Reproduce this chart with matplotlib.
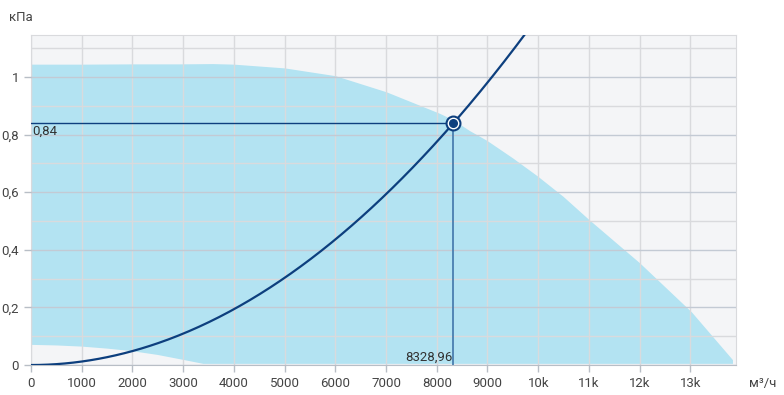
import matplotlib.pyplot as plt
import numpy as np

# fan working area (upper and lower boundaries), m3/h vs kPa
upper_x = [0, 1000, 2000, 2940, 3590, 4010, 5010, 6010, 7015, 8070, 8340, 8650, 9000, 9510, 10000, 10500, 11000, 12010, 13030, 13840]
upper_y = [1.043, 1.043, 1.044, 1.044, 1.045, 1.043, 1.030, 1.003, 0.947, 0.872, 0.849, 0.813, 0.778, 0.717, 0.654, 0.584, 0.505, 0.353, 0.183, 0.017]
lower_x = [0, 500, 1000, 1500, 2000, 2500, 3000, 3400, 13840]
lower_y = [0.07, 0.068, 0.064, 0.057, 0.048, 0.035, 0.018, 0.004, 0.004]

# operating point
op_flow = 8328.96
op_press = 0.84

x_ticks = [0, 1000, 2000, 3000, 4000, 5000, 6000, 7000, 8000, 9000, 10000, 11000, 12000, 13000]
x_labels = ['0', '1000', '2000', '3000', '4000', '5000', '6000', '7000', '8000', '9000', '10k', '11k', '12k', '13k']
y_ticks = [0, 0.2, 0.4, 0.6, 0.8, 1.0]
y_labels = ['0', '0,2', '0,4', '0,6', '0,8', '1']

plt.rcParams['font.family'] = ['Roboto', 'DejaVu Sans']

fig = plt.figure(figsize=(7.84, 3.95), dpi=100)
ax = fig.add_axes([0.0395, 0.0759, 0.8993, 0.8355])
ax.set_facecolor('#f4f5f7')

# working area polygon
poly_x = list(upper_x) + list(lower_x[::-1])
poly_y = list(upper_y) + list(lower_y[::-1])
ax.fill(poly_x, poly_y, color='#b3e3f2', lw=0, zorder=1)

# system curve through the operating point
k = op_press / op_flow ** 2
xs = np.linspace(0, 10000, 300)
ax.plot(xs, k * xs ** 2, color='#0d3f7e', lw=1.6, zorder=4)

# guide lines to the operating point
ax.plot([0, op_flow], [op_press, op_press], color='#0d3f7e', lw=1.0, zorder=3)
ax.plot([op_flow, op_flow], [0, op_press], color='#4a7fb0', lw=1.3, zorder=3)
ax.plot([op_flow], [op_press], 'o', ms=10, mfc='white', mec='#0d3f7e', mew=1.5, zorder=5)
ax.plot([op_flow], [op_press], 'o', ms=5.5, color='#0d3f7e', zorder=6)

ax.text(20, op_press - 0.005, '0,84', ha='left', va='top', fontsize=9.5, color='#333333', zorder=6)
ax.text(op_flow - 20, 0.005, '8328,96', ha='right', va='bottom', fontsize=9.5, color='#333333', zorder=6)

ax.set_xlim(0, 13900)
ax.set_ylim(0, 1.146)
ax.set_xticks(x_ticks)
ax.set_xticklabels(x_labels)
ax.set_yticks(y_ticks)
ax.set_yticklabels(y_labels)
ax.set_yticks(np.arange(0.1, 1.15, 0.2), minor=True)
ax.tick_params(axis='y', which='minor', length=0)
ax.set_axisbelow(False)
ax.grid(True, axis='x', color='#d9dadd', lw=1.0)
ax.grid(True, axis='y', which='major', color='#c3cad4', lw=1.0)
ax.grid(True, axis='y', which='minor', color='#d9dadd', lw=1.0)
ax.tick_params(axis='both', colors='#b8bec6', labelcolor='#444444', labelsize=9.5, length=5, width=1)

for side in ['top', 'left', 'right']:
    ax.spines[side].set_color('#d9dadd')
ax.spines['bottom'].set_color('#b8bec6')

fig.text(0.012, 0.955, 'кПа', fontsize=9.5, color='#444444', ha='left', va='center')
fig.text(0.955, 0.03, 'м³/ч', fontsize=9.5, color='#444444', ha='left', va='center')

plt.savefig('out.png', dpi=100)
